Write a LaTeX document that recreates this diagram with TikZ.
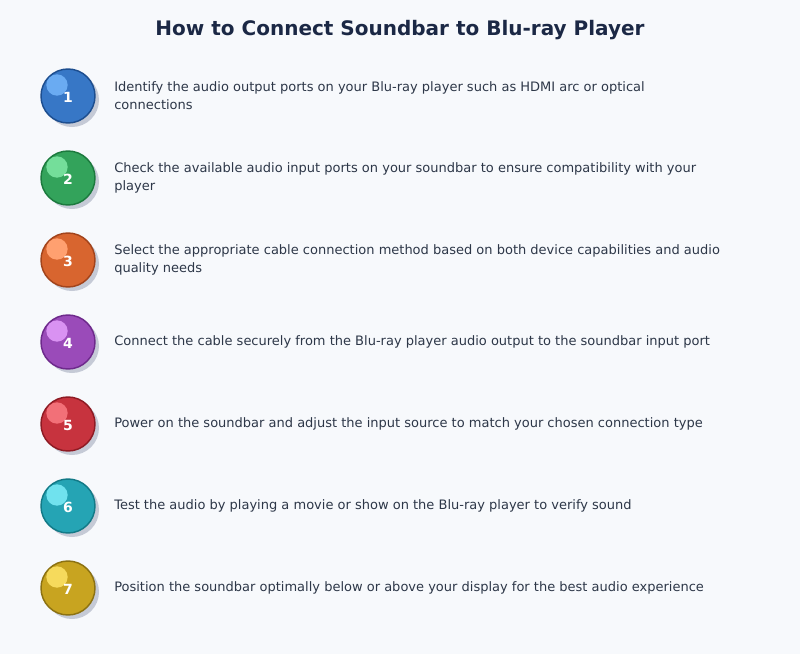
\documentclass[tikz,border=0pt]{standalone}
\usepackage{fontspec}
\setmainfont{DejaVu Sans}
\usetikzlibrary{positioning}

\definecolor{pageBack}{HTML}{F7F9FC}
\definecolor{titleNavy}{HTML}{1B2845}
\definecolor{bodyGray}{HTML}{2D3748}
\definecolor{railGray}{HTML}{D3D8E2}
\definecolor{shadowGray}{HTML}{C5CAD6}
%% ball colours: fill, rim, glint
\definecolor{fillA}{HTML}{3777C6}\definecolor{rimA}{HTML}{1D4E8F}\definecolor{glintA}{HTML}{6AABF2}
\definecolor{fillB}{HTML}{33A35B}\definecolor{rimB}{HTML}{1C7A3E}\definecolor{glintB}{HTML}{74DE9A}
\definecolor{fillC}{HTML}{D8652F}\definecolor{rimC}{HTML}{A2441C}\definecolor{glintC}{HTML}{FFA070}
\definecolor{fillD}{HTML}{9A4BB9}\definecolor{rimD}{HTML}{6E2A8C}\definecolor{glintD}{HTML}{D992F2}
\definecolor{fillE}{HTML}{C7333E}\definecolor{rimE}{HTML}{8E1B24}\definecolor{glintE}{HTML}{F27078}
\definecolor{fillF}{HTML}{25A4B4}\definecolor{rimF}{HTML}{137A87}\definecolor{glintF}{HTML}{70E2EE}
\definecolor{fillG}{HTML}{C8A420}\definecolor{rimG}{HTML}{8C7212}\definecolor{glintG}{HTML}{F6DA5C}

\pgfdeclarelayer{background}
\pgfsetlayers{background,main}

\begin{document}
\begin{tikzpicture}
[x=0.75pt,y=-0.75pt,
  railDecorate/.style={-,line width=2.2pt,draw=railGray},%
  ballDecorate/.style={shape=circle,minimum size=40.5pt,inner sep=0pt,line width=1.1pt},%
  shadowDecorate/.style={shape=circle,minimum size=40.5pt,inner sep=0pt,fill=shadowGray},%
  glintDecorate/.style={shape=circle,minimum size=16pt,inner sep=0pt},%
  numDecorate/.style={text=white,font=\bfseries\fontsize{10.5}{12}\selectfont},%
  textDecorate/.style={anchor=west,align=left,inner sep=0pt,text=bodyGray,
    font=\fontsize{9.75}{13.5}\selectfont}]
\useasboundingbox[fill=pageBack] (0,0) rectangle (800,654);

%% title
\node (title) at (400,30) [text=titleNavy,font=\bfseries\fontsize{15}{18}\selectfont]
  {How to Connect Soundbar to Blu-ray Player};

%% balls and step texts
\foreach \n/\c/\y/\txt in {
  1/A/96/{Identify the audio output ports on your Blu-ray player such as HDMI arc or optical\\connections},
  2/B/178/{Check the available audio input ports on your soundbar to ensure compatibility with your\\player},
  3/C/260/{Select the appropriate cable connection method based on both device capabilities and audio\\quality needs},
  4/D/342/{Connect the cable securely from the Blu-ray player audio output to the soundbar input port},
  5/E/424/{Power on the soundbar and adjust the input source to match your chosen connection type},
  6/F/506/{Test the audio by playing a movie or show on the Blu-ray player to verify sound},
  7/G/588/{Position the soundbar optimally below or above your display for the best audio experience}}
{
  \node (shadow_\n) at (72,\y+4) [shadowDecorate] {};
  \node (ball_\n) at (68,\y) [ballDecorate,fill=fill\c,draw=rim\c] {};
  \node (glint_\n) at (57,\y-11) [glintDecorate,fill=glint\c] {};
  \node (num_\n) at (68,\y+1.5) [numDecorate] {\n};
  \node (step_\n) at (114,\y) [textDecorate] {\txt};
}

%% rail between balls
\begin{pgfonlayer}{background}
\foreach \a/\b in {1/2, 2/3, 3/4, 4/5, 5/6, 6/7}
{
  \draw[railDecorate] (ball_\a) -- (ball_\b);
}
\end{pgfonlayer}
\end{tikzpicture}
\end{document}
